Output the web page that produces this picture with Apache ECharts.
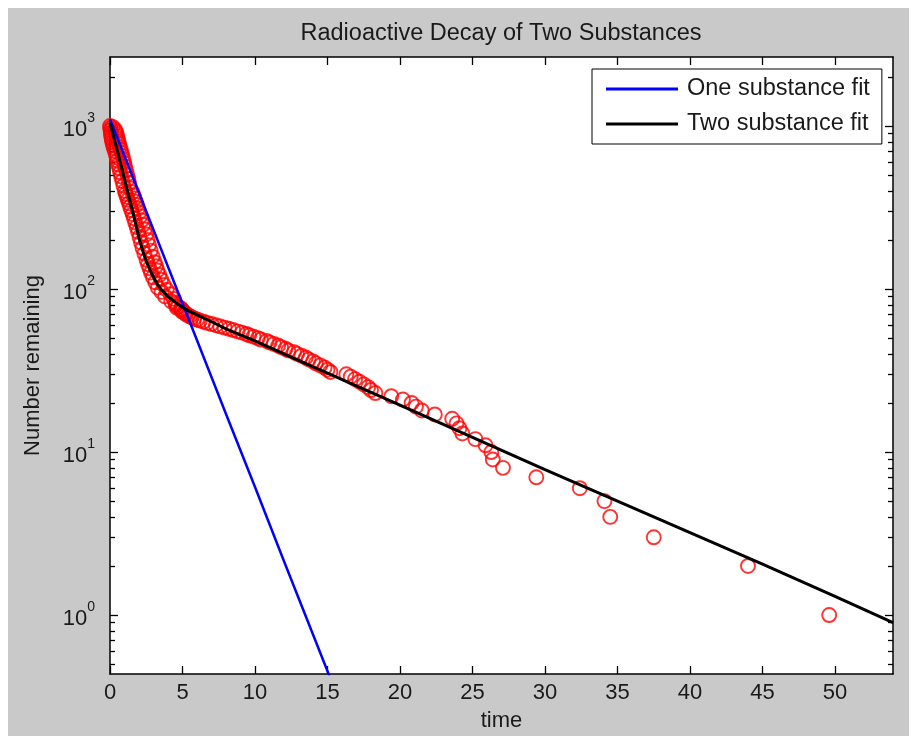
<!DOCTYPE html>
<html>
<head>
<meta charset="utf-8">
<title>Radioactive Decay of Two Substances</title>
<script src="https://cdn.jsdelivr.net/npm/echarts@6/dist/echarts.min.js"></script>
<style>
    html, body { margin: 0; padding: 0; background: #fff; }
    #frame { position: absolute; left: 8px; top: 8px; width: 901px; height: 728px; background: #c9c9c9; }
    #chart { position: absolute; left: 0; top: 0; width: 915px; height: 742px; }
</style>
</head>
<body>
<div id="frame"></div>
<div id="chart"></div>
<script>
    // measured counts: time at which the count was recorded, and the count
    const decayTime = [
        0.00, 0.18, 0.02, 0.34, 0.04, 0.40, 0.06, 0.45, 0.08, 0.50, 0.10, 0.53, 0.13, 0.58, 0.17, 0.63,
        0.22, 0.68, 0.27, 0.74, 0.34, 0.80, 0.40, 0.86, 0.46, 0.92, 0.51, 0.98, 0.57, 1.04, 0.64, 1.11,
        0.70, 1.18, 0.77, 1.26, 0.85, 1.33, 0.93, 1.41, 1.02,
        1.55, 1.09, 1.62, 1.16, 1.70, 1.23, 1.77, 1.31, 1.85, 1.39, 1.93, 1.47, 2.02, 1.56, 2.10, 1.65,
        2.19, 1.74, 2.29, 1.84, 2.39, 1.94, 2.49, 2.04, 2.59, 2.14, 2.69, 2.24, 2.80, 2.37, 2.94, 2.52,
        3.08, 2.62, 3.17, 2.72, 3.27, 2.83, 3.40, 2.96, 3.53, 3.12, 3.71, 3.30, 3.91, 3.55, 4.18, 3.80,
        4.40, 4.22, 4.50, 4.55, 4.70, 4.60, 4.90,
        4.90, 5.00, 4.95, 5.10, 5.20, 5.25, 5.40, 5.50, 5.65, 5.80, 6.00, 6.20, 6.45, 6.70, 7.00, 7.30,
        7.60, 7.90, 8.20, 8.50, 8.80, 9.10, 9.40, 9.60, 9.90, 10.2, 10.4, 10.8, 11.0, 11.3, 11.6, 11.8,
        12.1, 12.3, 12.7, 12.9, 13.2, 13.5, 13.7, 14.0, 14.2, 14.5, 14.8, 15.0, 15.2,
        16.3, 16.6, 16.9, 17.2, 17.5, 17.8, 18.0, 18.3, 19.4, 20.2, 20.8, 21.1, 21.5, 22.4, 23.6, 23.9,
        24.1, 24.3, 25.2, 25.9, 26.3, 26.4, 27.1, 29.4, 32.4, 34.1, 34.5, 37.5, 44.0, 49.6
    ]
    const decayCount = [
        1000, 985, 970, 955, 940, 925, 910, 895, 880, 865, 850, 835, 820, 805, 790, 775,
        760, 745, 730, 715, 700, 685, 670, 655, 640, 625, 610, 595, 580, 565, 550, 535,
        520, 505, 490, 475, 460, 445, 430, 415, 400,
        392, 384, 376, 368, 360, 352, 344, 336, 328, 320, 312, 304, 296, 288, 280, 272,
        264, 256, 248, 240, 232, 224, 216, 208, 200, 193, 186, 179, 172, 165, 158, 151,
        146, 142, 138, 134, 130, 126, 122, 118, 114, 110, 106, 102, 99, 96, 93, 90,
        87, 84, 82, 80, 78, 77, 76,
        75, 74, 73, 72, 71, 70, 69, 68, 67, 66, 65, 64, 63, 62, 61, 60,
        59, 58, 57, 56, 55, 54, 53, 52, 51, 50, 49, 48, 47, 46, 45, 44,
        43, 42, 41, 40, 39, 38, 37, 36, 35, 34, 33, 32, 31,
        30, 29, 28, 27, 26, 25, 24, 23, 22, 21, 20, 19, 18, 17, 16, 15,
        14, 13, 12, 11, 10, 9, 8, 7, 6, 5, 4, 3, 2, 1
    ]

    // single exponential fit
    const oneFitTime = [0, 2, 4, 6, 8, 10, 12, 14, 16]
    const oneFitCount = [1100, 389, 137, 48.5, 17.1, 6.1, 2.14, 0.76, 0.27]

    // double exponential fit
    const twoFitTime = [0, 0.25, 0.5, 0.75, 1, 1.25, 1.5, 1.75, 2, 2.25, 2.5, 2.75, 3, 3.25, 3.5, 3.75,
        4, 4.5, 5, 5.5, 6, 7, 8, 10, 12, 15, 20, 25, 30, 35, 40, 45, 50, 54]
    const twoFitCount = [1050, 860, 710, 580, 470, 385, 315, 255, 205, 172, 148, 131, 118, 108, 100, 95,
        90, 83, 77, 73, 69.5, 63, 57, 48, 40, 30.5, 19.4, 12.3, 7.8, 5.0, 3.2, 2.05, 1.3, 0.9]

    const xTicks = [0, 5, 10, 15, 20, 25, 30, 35, 40, 45, 50]
    const yDecades = [1, 10, 100, 1000]
    const yRange = [0.435, 2650]

    const FONT = 'Liberation Sans, Arial, sans-serif'
    const TXT = '#1a1a1a'

    const majorY = yDecades.map(v => Math.log10(v))
    const minorY = []
    majorY.forEach(k => {
        for (let m = 2; m <= 9; m++) minorY.push(k + Math.log10(m))
    })
    minorY.unshift(Math.log10(0.5), Math.log10(0.6), Math.log10(0.7), Math.log10(0.8), Math.log10(0.9))

    const yMin = Math.log10(yRange[0])
    const yMax = Math.log10(yRange[1])

    function yAxis(position, ticks, len, labels) {
        return {
            type: 'value',
            position: position,
            min: yMin,
            max: yMax,
            axisLine: { show: labels !== null, onZero: false, lineStyle: { color: '#000', width: 1.5 } },
            axisTick: { show: true, inside: true, length: len, customValues: ticks,
                lineStyle: { color: '#000', width: 1.3 } },
            axisLabel: labels || { show: false },
            splitLine: { show: false }
        }
    }

    function xAxis(position, labels) {
        return {
            type: 'value',
            position: position,
            min: 0,
            max: 54,
            axisLine: { show: true, onZero: false, lineStyle: { color: '#000', width: 1.5 } },
            axisTick: { show: true, inside: true, length: 8, customValues: xTicks,
                lineStyle: { color: '#000', width: 1.3 } },
            axisLabel: labels || { show: false },
            splitLine: { show: false }
        }
    }

    const chart = echarts.init(document.getElementById('chart'), null, { renderer: 'canvas' })

    const yLeft = yAxis('left', majorY, 8, {
        show: true,
        customValues: majorY,
        margin: 15,
        formatter: v => '{b|10}{e|' + Math.round(v) + '}',
        rich: {
            b: { fontSize: 22, fontFamily: FONT, color: TXT, padding: [8, 0, 0, 0] },
            e: { fontSize: 14, fontFamily: FONT, color: TXT, padding: [0, 0, 16, 0] }
        }
    })
    yLeft.name = 'Number remaining'
    yLeft.nameLocation = 'middle'
    yLeft.nameGap = 66
    yLeft.nameTextStyle = { fontSize: 22, fontFamily: FONT, color: TXT }

    const xBottom = xAxis('bottom', {
        show: true,
        customValues: xTicks,
        margin: 8,
        fontSize: 22,
        fontFamily: FONT,
        color: TXT
    })
    xBottom.name = 'time'
    xBottom.nameLocation = 'middle'
    xBottom.nameGap = 36
    xBottom.nameTextStyle = { fontSize: 22, fontFamily: FONT, color: TXT }

    chart.setOption({
        animation: false,
        backgroundColor: 'transparent',
        title: {
            text: 'Radioactive Decay of Two Substances',
            left: 496,
            textAlign: 'center',
            top: 17,
            textStyle: { fontSize: 23.5, fontWeight: 'normal', fontFamily: FONT, color: TXT }
        },
        grid: {
            left: 110,
            top: 57,
            width: 783,
            height: 617,
            outerBoundsMode: 'none',
            backgroundColor: '#fff',
            show: true,
            borderWidth: 0
        },
        legend: {
            left: 592,
            top: 69,
            orient: 'vertical',
            backgroundColor: '#fff',
            borderColor: '#000',
            borderWidth: 1,
            padding: [8, 12, 8, 14],
            itemGap: 11,
            itemWidth: 72,
            itemHeight: 3,
            textStyle: { fontSize: 23.5, fontFamily: FONT, color: TXT, lineHeight: 24, padding: [0, 0, 0, 4] },
            data: [
                { name: 'One substance fit', icon: 'rect' },
                { name: 'Two substance fit', icon: 'rect' }
            ]
        },
        xAxis: [xBottom, xAxis('top', null)],
        yAxis: [
            yLeft,
            yAxis('left', minorY, 5, null),
            yAxis('right', majorY, 8, { show: false }),
            yAxis('right', minorY, 5, null)
        ],
        series: [
            {
                name: 'Data',
                type: 'scatter',
                symbol: 'circle',
                symbolSize: 14,
                silent: true,
                itemStyle: { color: 'rgba(0,0,0,0)', borderColor: '#ff0000', borderWidth: 1.9 },
                data: decayTime.map((t, i) => [t, Math.log10(decayCount[i])])
            },
            {
                name: 'One substance fit',
                type: 'line',
                symbol: 'none',
                clip: true,
                lineStyle: { color: '#0000ff', width: 2.5 },
                itemStyle: { color: '#0000ff' },
                data: oneFitTime.map((t, i) => [t, Math.log10(oneFitCount[i])])
            },
            {
                name: 'Two substance fit',
                type: 'line',
                symbol: 'none',
                clip: true,
                lineStyle: { color: '#000000', width: 3 },
                itemStyle: { color: '#000000' },
                data: twoFitTime.map((t, i) => [t, Math.log10(twoFitCount[i])])
            }
        ]
    })
</script>
</body>
</html>
